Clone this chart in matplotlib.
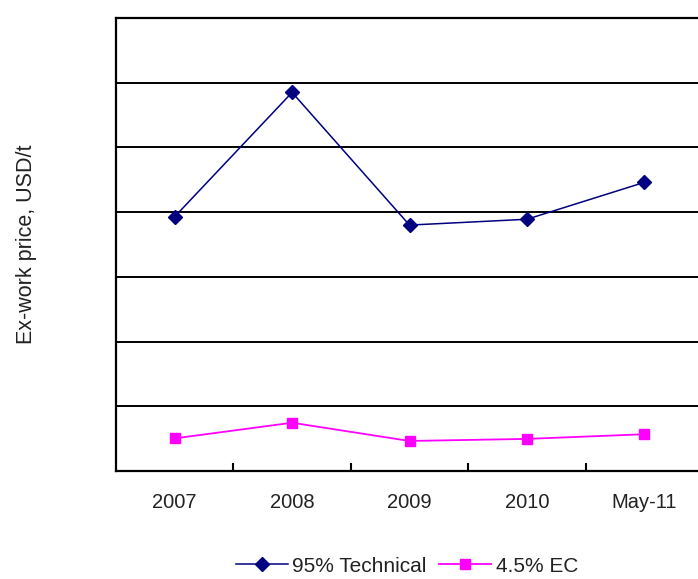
import matplotlib.pyplot as plt

categories = ["2007", "2008", "2009", "2010", "May-11"]
technical = [1965, 2925, 1900, 1945, 2230]
ec = [252, 373, 232, 248, 284]

plt.rcParams['font.family'] = ['Liberation Sans', 'DejaVu Sans']

fig = plt.figure(figsize=(6.98, 5.79), dpi=100)
ax = fig.add_axes([116 / 698, 1 - 471 / 579, 587 / 698, 453 / 579])

x = range(len(categories))
ax.plot(x, technical, color='#000080', lw=1.1, marker='D', ms=7,
        label='95% Technical')
ax.plot(x, ec, color='#FF00FF', lw=1.3, marker='s', ms=7.5,
        label='4.5% EC')

ax.set_xlim(-0.5, len(categories) - 0.5)
ax.set_ylim(0, 3500)
ax.set_yticks(range(0, 3501, 500))
ax.set_yticklabels([])
ax.tick_params(axis='y', length=0)
ax.grid(axis='y', color='black', lw=1.4)

# category labels between boundary ticks
ax.set_xticks([i + 0.5 for i in range(len(categories) - 1)])
ax.set_xticklabels([])
ax.set_xticks(list(x), minor=True)
ax.set_xticklabels(categories, minor=True, fontsize=14.5, color='#222222')
ax.tick_params(axis='x', which='major', direction='in', length=6, width=1.5)
ax.tick_params(axis='x', which='minor', length=0, pad=16)

for s in ax.spines.values():
    s.set_linewidth(1.6)
ax.spines['right'].set_visible(False)

ax.set_ylabel("Ex-work price, USD/t", fontsize=15.5, color='#222222')
ax.yaxis.set_label_coords(-(116 - 37) / 587, 0.5)

fig.legend(loc='center', bbox_to_anchor=(407 / 698, 1 - 566 / 579), ncol=2,
           frameon=False, fontsize=15, handlelength=2.5, columnspacing=0.6,
           handletextpad=0.2, labelcolor='#222222')

fig.savefig("out.png", dpi=100)
